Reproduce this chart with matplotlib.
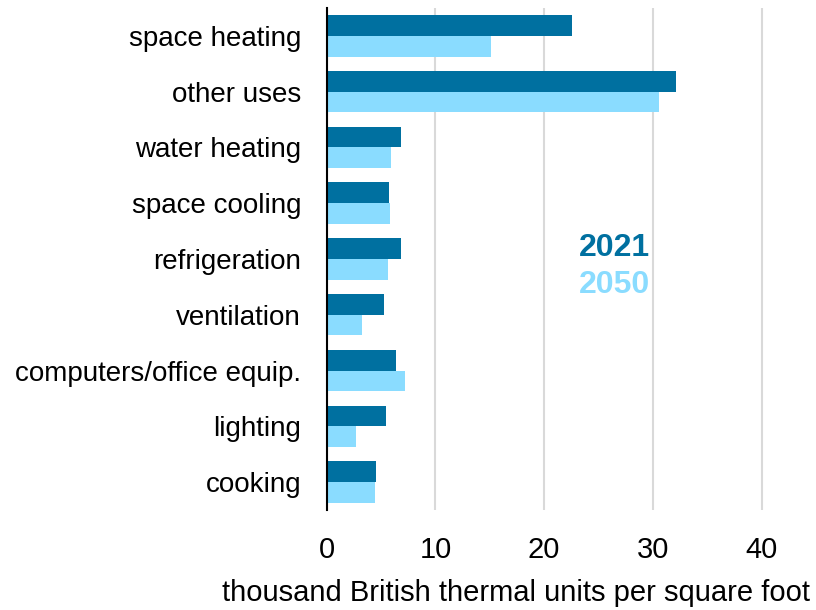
import numpy as np
import matplotlib.pyplot as plt

plt.rcParams['font.family'] = ['Liberation Sans', 'DejaVu Sans']

# energy use by end use, thousand Btu per square foot
categories = ['space heating', 'other uses', 'water heating', 'space cooling',
              'refrigeration', 'ventilation', 'computers/office equip.',
              'lighting', 'cooking']
values_2021 = [22.6, 32.1, 6.8, 5.75, 6.8, 5.3, 6.4, 5.45, 4.5]
values_2050 = [15.1, 30.6, 5.9, 5.85, 5.6, 3.2, 7.2, 2.7, 4.4]
xticks = [0, 10, 20, 30, 40]

dark = '#0070a0'
light = '#8adcff'


def main():
    fig = plt.figure(figsize=(8.16, 6.10), dpi=100)
    ax = fig.add_axes([0.4004, 0.164, 0.5996, 0.823])

    y = np.arange(len(categories))
    h = 0.372
    ax.barh(y - h / 2, values_2021, height=h, color=dark, zorder=3)
    ax.barh(y + h / 2, values_2050, height=h, color=light, zorder=3)

    ax.set_ylim(len(categories) - 0.5, -0.5)
    ax.set_xlim(0, 45)
    ax.set_yticks(y)
    ax.set_yticklabels(categories, fontsize=20)
    ax.set_xticks(xticks)
    ax.set_xticklabels([str(t) for t in xticks], fontsize=21)
    ax.tick_params(axis='y', length=0, pad=18.5)
    ax.tick_params(axis='x', length=0, pad=19)
    ax.xaxis.grid(True, color='#d9d9d9', linewidth=1.5, zorder=0)

    for s in ['top', 'right', 'bottom']:
        ax.spines[s].set_visible(False)
    ax.spines['left'].set_color('black')
    ax.spines['left'].set_linewidth(1.5)
    ax.spines['left'].set_zorder(4)

    fig.text(810 / 816, 1 - 593 / 610,
             'thousand British thermal units per square foot',
             fontsize=21, ha='right', va='center')

    ax.text(29.7, 3.81, '2021', color=dark, fontsize=23, fontweight='bold',
            ha='right', va='center')
    ax.text(29.7, 4.47, '2050', color=light, fontsize=23, fontweight='bold',
            ha='right', va='center')

    fig.savefig('out.png', dpi=100)


if __name__ == '__main__':
    main()
